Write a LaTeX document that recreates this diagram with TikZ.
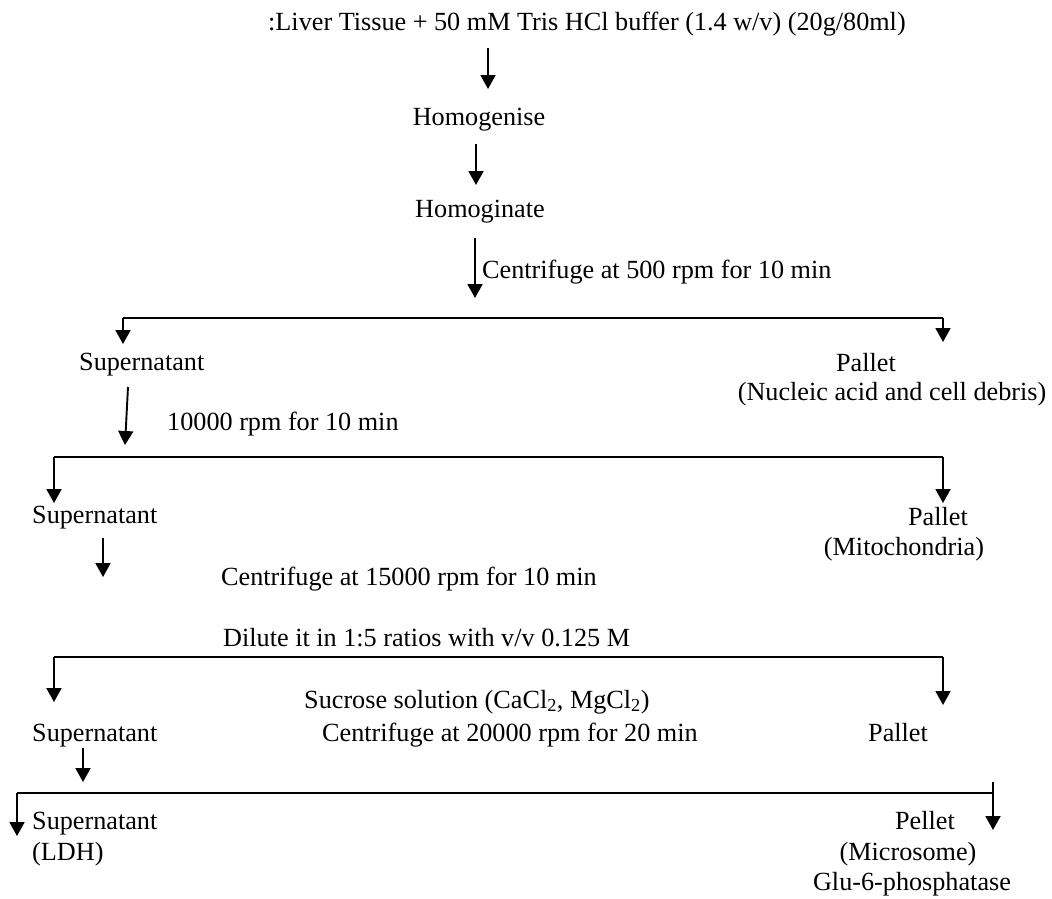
\documentclass[tikz,border=0pt]{standalone}
\usepackage{fontspec}
\setmainfont{Liberation Serif}
\usetikzlibrary{arrows.meta}
\begin{document}
\begin{tikzpicture}[x=1pt,y=-1pt,
  txt/.style={inner sep=0pt,font=\fontsize{26.2}{30}\selectfont},
  arr/.style={line width=1.9pt,-{Triangle[width=15pt,length=14pt]}},
  ln/.style={line width=1.9pt}]
\useasboundingbox (0,0) rectangle (1052,898);
% texts
\node[txt,anchor=base west] (title) at (268,30) {:Liver Tissue + 50 mM Tris HCl buffer (1.4 w/v) (20g/80ml)};
\node[txt,anchor=base] (homog) at (479,125) {Homogenise};
\node[txt,anchor=base] (homoginate) at (480,217) {Homoginate};
\node[txt,anchor=base west] (c500) at (482,278) {Centrifuge at 500 rpm for 10 min};
\node[txt,anchor=base west] (sup1) at (79,370) {Supernatant};
\node[txt,anchor=base] (pal1) at (866,371) {Pallet};
\node[txt,anchor=base] (nuc) at (892,400) {(Nucleic acid and cell debris)};
\node[txt,anchor=base west] (r10000) at (167,430) {10000 rpm for 10 min};
\node[txt,anchor=base west] (sup2) at (32,523) {Supernatant};
\node[txt,anchor=base] (pal2) at (938,525) {Pallet};
\node[txt,anchor=base] (mito) at (904,555) {(Mitochondria)};
\node[txt,anchor=base west] (c15000) at (221,585) {Centrifuge at 15000 rpm for 10 min};
\node[txt,anchor=base west] (dilute) at (223,646) {Dilute it in 1:5 ratios with v/v 0.125 M};
\node[txt,anchor=base west] (sucrose) at (304,708) {Sucrose solution (CaCl\textsubscript{2}, MgCl\textsubscript{2})};
\node[txt,anchor=base west] (sup3) at (32,741) {Supernatant};
\node[txt,anchor=base west] (c20000) at (322,741) {Centrifuge at 20000 rpm for 20 min};
\node[txt,anchor=base west] (pal3) at (868,741) {Pallet};
\node[txt,anchor=base west] (sup4) at (32,829) {Supernatant};
\node[txt,anchor=base west] (ldh) at (32,860) {(LDH)};
\node[txt,anchor=base] (pellet4) at (925,829) {Pellet};
\node[txt,anchor=base] (micro) at (908,860) {(Microsome)};
\node[txt,anchor=base] (glu) at (912,890) {Glu-6-phosphatase};
% connector points
\coordinate (a1s) at (488,48);  \coordinate (a1e) at (488,89);
\coordinate (a2s) at (476,144); \coordinate (a2e) at (476,185);
\coordinate (a3s) at (475,238); \coordinate (a3e) at (475,298);
\coordinate (b1l) at (123,318); \coordinate (b1r) at (943,318);
\coordinate (b1le) at (123,344); \coordinate (b1re) at (943,342);
\coordinate (a4s) at (128,387); \coordinate (a4e) at (125,445);
\coordinate (b2l) at (54,457);  \coordinate (b2r) at (943,457);
\coordinate (b2le) at (54,503); \coordinate (b2re) at (943,503);
\coordinate (a5s) at (103,538); \coordinate (a5e) at (103,577);
\coordinate (b3l) at (54,657);  \coordinate (b3r) at (943,657);
\coordinate (b3le) at (54,702); \coordinate (b3re) at (943,705);
\coordinate (a6s) at (83,748);  \coordinate (a6e) at (83,782);
\coordinate (b4l) at (17,793);  \coordinate (b4r) at (993,793);
\coordinate (b4rt) at (993,782);
\coordinate (b4le) at (17,836); \coordinate (b4re) at (993,830);
% connectors
\draw[arr] (a1s) -- (a1e);
\draw[arr] (a2s) -- (a2e);
\draw[arr] (a3s) -- (a3e);
\draw[ln] (b1l) -- (b1r);
\draw[arr] (b1l) -- (b1le);
\draw[arr] (b1r) -- (b1re);
\draw[arr] (a4s) -- (a4e);
\draw[ln] (b2l) -- (b2r);
\draw[arr] (b2l) -- (b2le);
\draw[arr] (b2r) -- (b2re);
\draw[arr] (a5s) -- (a5e);
\draw[ln] (b3l) -- (b3r);
\draw[arr] (b3l) -- (b3le);
\draw[arr] (b3r) -- (b3re);
\draw[arr] (a6s) -- (a6e);
\draw[ln] (b4l) -- (b4r);
\draw[arr] (b4l) -- (b4le);
\draw[arr] (b4rt) -- (b4re);
\end{tikzpicture}
\end{document}
